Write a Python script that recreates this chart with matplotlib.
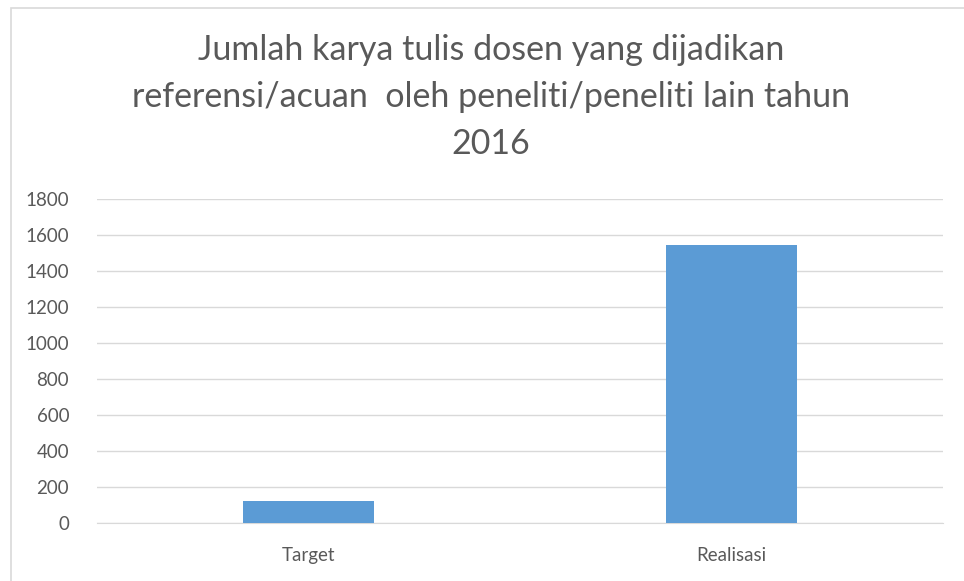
import matplotlib
matplotlib.use("Agg")
import matplotlib.pyplot as plt
from matplotlib.patches import Rectangle

categories = ["Target", "Realisasi"]
values = [120, 1547]
yticks = [0, 200, 400, 600, 800, 1000, 1200, 1400, 1600, 1800]
title = "Jumlah karya tulis dosen yang dijadikan\nreferensi/acuan  oleh peneliti/peneliti lain tahun\n2016"

plt.rcParams['font.family'] = ['Lato', 'DejaVu Sans']
W, H = 964, 581
fig = plt.figure(figsize=(W/100, H/100), dpi=100)
fig.patch.set_facecolor('white')

# chart border
fig.patches.append(Rectangle((11/W, -0.1), 1.2, (H-8)/H + 0.1, transform=fig.transFigure,
                             fill=False, edgecolor='#d9d9d9', linewidth=1.2))

ax = fig.add_axes([97/W, 1-523/H, (943-97)/W, (523-199)/H])
x = range(len(categories))
ax.bar(x, values, width=0.31, color='#5b9bd5', zorder=3)
ax.set_xlim(-0.5, 1.5)
ax.set_ylim(0, 1800)
ax.set_yticks(yticks)
ax.set_yticklabels([str(v) for v in yticks])
ax.set_xticks(list(x))
ax.set_xticklabels(categories)
ax.grid(axis='y', color='#d9d9d9', linewidth=1, zorder=0)
for s in ['top', 'right', 'left']:
    ax.spines[s].set_visible(False)
ax.spines['bottom'].set_color('#d9d9d9')
ax.tick_params(axis='both', length=0, labelcolor='#595959', labelsize=13.5)
ax.tick_params(axis='y', pad=20)
ax.tick_params(axis='x', pad=17)

fig.text(491/W, 1-34/H, title, ha='center', va='top', fontsize=24.5,
         color='#595959', linespacing=1.58)

fig.savefig('out.png', dpi=100)
